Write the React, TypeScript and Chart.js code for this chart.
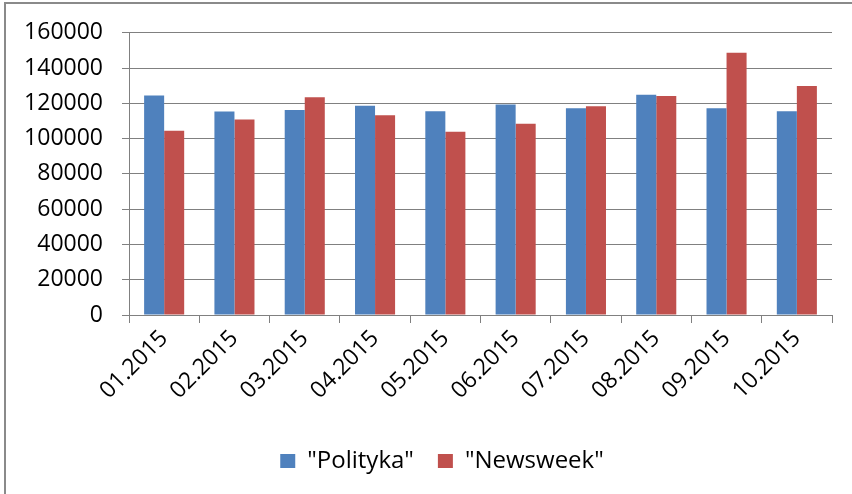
import React, { useEffect, useRef } from "react";
import { Chart, registerables } from "chart.js";

Chart.register(...registerables);

const categories = ["01.2015", "02.2015", "03.2015", "04.2015", "05.2015", "06.2015", "07.2015", "08.2015", "09.2015", "10.2015"];
const polityka = [124500, 115400, 116300, 118600, 115500, 119300, 117200, 124900, 117200, 115500];
const newsweek = [104400, 110800, 123400, 113300, 103900, 108400, 118300, 124100, 148700, 129900];
const seriesNames = ['"Polityka"', '"Newsweek"'];
const yTicks = [0, 20000, 40000, 60000, 80000, 100000, 120000, 140000, 160000];

const FONT = "'Open Sans', 'Liberation Sans', sans-serif";

const shiftLegend = {
  id: "shiftLegend",
  afterLayout(chart: any) {
    if (chart.legend) {
      chart.legend.left = 50;
      chart.legend.right = 834;
    }
  },
};

export default function App() {
  const ref = useRef<HTMLCanvasElement | null>(null);
  useEffect(() => {
    document.body.style.margin = "0";
    const ctx = ref.current!;
    const chart = new Chart(ctx, {
      type: "bar",
      data: {
        labels: categories,
        datasets: [
          { label: seriesNames[0], data: polityka, backgroundColor: "#4F81BD", borderWidth: 0 },
          { label: seriesNames[1], data: newsweek, backgroundColor: "#C0504D", borderWidth: 0 },
        ],
      },
      plugins: [shiftLegend],
      options: {
        animation: false,
        responsive: false,
        maintainAspectRatio: false,
        layout: { padding: { top: 32, right: 20, bottom: 11, left: 0 } },
        datasets: { bar: { categoryPercentage: 0.57, barPercentage: 1 } },
        plugins: {
          tooltip: { enabled: false },
          legend: {
            position: "bottom",
            labels: {
              color: "#000",
              font: { family: FONT, size: 24 },
              boxWidth: 15,
              boxHeight: 14,
              padding: 24,
            },
          },
        },
        scales: {
          x: {
            offset: true,
            grid: { offset: true, drawOnChartArea: false, drawTicks: true, tickLength: 8, color: "#808080" },
            border: { color: "#808080", width: 1 },
            ticks: { color: "#000", font: { family: FONT, size: 23 }, minRotation: 45, maxRotation: 45, padding: 2 },
            afterFit: (s: any) => { s.height = 110; },
          },
          y: {
            min: 0,
            max: 160000,
            afterBuildTicks: (s: any) => { s.ticks = yTicks.map((v) => ({ value: v })); },
            grid: { color: "#808080", tickLength: 7, lineWidth: 1 },
            border: { color: "#808080", width: 1 },
            ticks: { color: "#000", font: { family: FONT, size: 23 }, padding: 19, callback: (v: any) => String(v) },
            afterFit: (s: any) => { s.width = 129; },
          },
        },
      },
    });
    return () => chart.destroy();
  }, []);
  return (
    <div style={{ position: "relative", width: 852, height: 494, overflow: "hidden", background: "#fff" }}>
      <canvas ref={ref} width={852} height={494} style={{ display: "block" }} />
      <div style={{ position: "absolute", left: 4, top: 2, width: 900, height: 600, border: "2px solid #8a8a8a", pointerEvents: "none" }} />
    </div>
  );
}
